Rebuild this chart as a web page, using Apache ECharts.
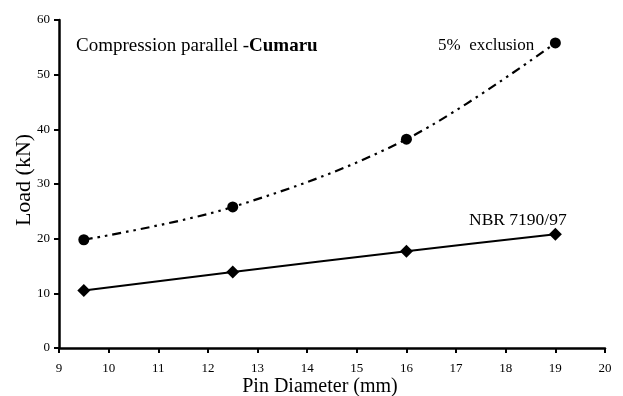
<!DOCTYPE html>
<html>
<head>
<meta charset="utf-8">
<script src="https://cdn.jsdelivr.net/npm/echarts@6/dist/echarts.min.js"></script>
<style>
  html, body { margin: 0; padding: 0; background: #fff; }
  #chart { width: 623px; height: 396px; }
</style>
</head>
<body>
<div id="chart"></div>
<script>
// Pin diameters (mm) tested
const pinDiameter = [9.5, 12.5, 16, 19];
// Load at 5% exclusion criterion (kN)
const exclusionLoad = [19.8, 25.8, 38.2, 55.8];
// Load by NBR 7190/97 (kN)
const nbrLoad = [10.5, 13.9, 17.7, 20.8];

const serif = '"Liberation Serif", "Times New Roman", serif';

const chart = echarts.init(document.getElementById('chart'));
chart.setOption({
  animation: false,
  backgroundColor: '#fff',
  grid: { left: 59, right: 18, top: 20, bottom: 48, containLabel: false, outerBoundsMode: 'none' },
  xAxis: {
    type: 'value', min: 9, max: 20, interval: 1,
    axisLine: { lineStyle: { color: '#000', width: 2.5 } },
    axisTick: { show: true, length: 5, lineStyle: { color: '#000', width: 2 } },
    axisLabel: { fontFamily: serif, fontSize: 13, color: '#000', margin: 14 },
    splitLine: { show: false }
  },
  yAxis: {
    type: 'value', min: 0, max: 60, interval: 10,
    axisLine: { show: true, lineStyle: { color: '#000', width: 2.5 } },
    axisTick: { show: true, length: 5, lineStyle: { color: '#000', width: 2 } },
    axisLabel: { fontFamily: serif, fontSize: 13, color: '#000', margin: 9 },
    splitLine: { show: false }
  },
  series: [
    {
      name: '5% exclusion', type: 'line', smooth: 0.35,
      data: pinDiameter.map((d, i) => [d, exclusionLoad[i]]),
      symbol: 'circle', symbolSize: 11,
      itemStyle: { color: '#000' },
      lineStyle: { color: '#000', width: 2.2, type: [9, 5, 2.5, 5, 2.5, 5] },
      z: 3
    },
    {
      name: 'NBR 7190/97', type: 'line', smooth: 0.3,
      data: pinDiameter.map((d, i) => [d, nbrLoad[i]]),
      symbol: 'diamond', symbolSize: 13,
      itemStyle: { color: '#000' },
      lineStyle: { color: '#000', width: 2 },
      z: 3
    }
  ],
  graphic: [
    // axis titles
    {
      type: 'text', x: 320, y: 387,
      style: { text: 'Pin Diameter (mm)', fontFamily: serif, fontSize: 20, fill: '#000',
               align: 'center', verticalAlign: 'middle' }
    },
    {
      type: 'text', x: 24, y: 180, rotation: Math.PI / 2,
      style: { text: 'Load (kN)', fontFamily: serif, fontSize: 22, fill: '#000',
               align: 'center', verticalAlign: 'middle' }
    },
    // annotations
    {
      type: 'text', left: 76, top: 37,
      style: {
        text: '{n|Compression parallel -}{b|Cumaru}',
        rich: {
          n: { fontFamily: serif, fontSize: 19, fill: '#000' },
          b: { fontFamily: serif, fontSize: 19, fontWeight: 'bold', fill: '#000' }
        }
      }
    },
    {
      type: 'text', left: 438, top: 37,
      style: { text: '5%  exclusion', fontFamily: serif, fontSize: 17, fill: '#000' }
    },
    {
      type: 'text', left: 469, top: 211,
      style: { text: 'NBR 7190/97', fontFamily: serif, fontSize: 17.5, fill: '#000' }
    }
  ]
});
</script>
</body>
</html>
